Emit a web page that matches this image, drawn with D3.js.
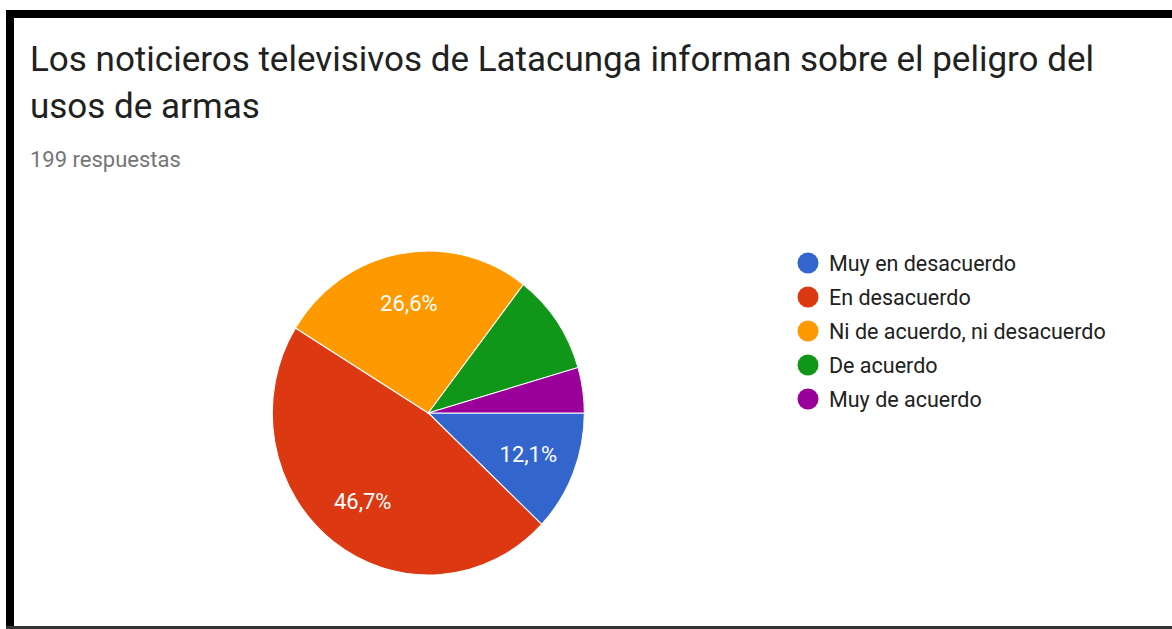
<!DOCTYPE html>
<html>
<head>
<meta charset="utf-8">
<script src="https://cdn.jsdelivr.net/npm/d3@7"></script>
<style>
  html, body { margin: 0; padding: 0; background: #fff; }
  svg { display: block; }
  text { font-family: Roboto, "Noto Sans", Arial, sans-serif; }
</style>
</head>
<body>
<svg id="chart" width="1172" height="629"></svg>
<script>
const categories = ["Muy en desacuerdo", "En desacuerdo", "Ni de acuerdo, ni desacuerdo", "De acuerdo", "Muy de acuerdo"];
const counts = [24, 93, 53, 20, 9];
const colors = ["#3366cc", "#dc3912", "#ff9900", "#109618", "#990099"];
const titleLines = ["Los noticieros televisivos de Latacunga informan sobre el peligro del", "usos de armas"];
const subtitle = "199 respuestas";

const svg = d3.select("#chart");
const W = 1172, H = 629;

// frame
svg.append("rect").attr("x", 0).attr("y", 0).attr("width", W).attr("height", H).attr("fill", "#fff");
svg.append("rect").attr("x", 6).attr("y", 10).attr("width", W - 6).attr("height", 8).attr("fill", "#000");
svg.append("rect").attr("x", 6).attr("y", 10).attr("width", 8).attr("height", H - 10).attr("fill", "#000");
svg.append("rect").attr("x", 6).attr("y", 626).attr("width", W - 6).attr("height", 3).attr("fill", "#333");

// title
svg.append("text").attr("x", 30).attr("y", 71).attr("font-size", 35).attr("fill", "#212121").text(titleLines[0]);
svg.append("text").attr("x", 30).attr("y", 118).attr("font-size", 35).attr("fill", "#212121").text(titleLines[1]);
svg.append("text").attr("x", 30).attr("y", 167).attr("font-size", 22).attr("fill", "#757575").text(subtitle);

// pie
const total = d3.sum(counts);
const cx = 428.3, cy = 413, rx = 156, ry = 162;
const pie = d3.pie().sort(null).startAngle(Math.PI / 2).endAngle(Math.PI / 2 + 2 * Math.PI);
const arcs = pie(counts);
const arc = d3.arc().innerRadius(0).outerRadius(rx);
const g = svg.append("g").attr("transform", `translate(${cx},${cy}) scale(1,${ry / rx})`);
g.selectAll("path").data(arcs).join("path")
  .attr("d", arc)
  .attr("fill", (d, i) => colors[i])
  .attr("stroke", "#fff")
  .attr("stroke-width", 1);

const fmt = v => (Math.round(v * 1000) / 10).toFixed(1).replace(".", ",") + "%";
const labelArc = d3.arc().innerRadius(rx * 0.69).outerRadius(rx * 0.69);
svg.append("g").selectAll("text").data(arcs.filter(d => d.value / total > 0.11)).join("text")
  .attr("x", d => cx + labelArc.centroid(d)[0])
  .attr("y", d => cy + labelArc.centroid(d)[1] * ry / rx)
  .attr("dy", "0.35em")
  .attr("text-anchor", "middle")
  .attr("font-size", 22)
  .attr("fill", "#fff")
  .text(d => fmt(d.value / total));

// legend
const lg = svg.append("g").attr("transform", "translate(808,263)");
const rows = lg.selectAll("g").data(categories).join("g")
  .attr("transform", (d, i) => `translate(0,${i * 34})`);
rows.append("circle").attr("r", 10.5).attr("fill", (d, i) => colors[i]);
rows.append("text").attr("x", 21).attr("dy", "0.35em").attr("font-size", 21.5).attr("fill", "#212121").text(d => d);
</script>
</body>
</html>
